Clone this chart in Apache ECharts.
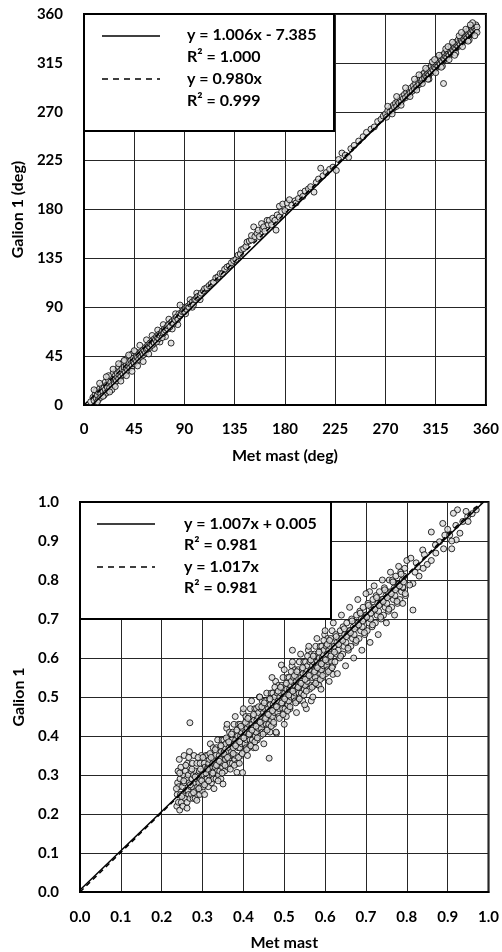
<!DOCTYPE html>
<html><head><meta charset="utf-8">
<script src="https://cdn.jsdelivr.net/npm/echarts@6/dist/echarts.min.js"></script>
<style>html,body{margin:0;padding:0;background:#fff}#c{width:502px;height:952px}</style>
</head><body><div id="c"></div>
<script>
// ---------- data ----------
const dirTickLabels = ['0','45','90','135','180','225','270','315','360'];
const spdTickLabels = ['0.0','0.1','0.2','0.3','0.4','0.5','0.6','0.7','0.8','0.9','1.0'];
const dirAxisTitles = ['Met mast (deg)', 'Galion 1 (deg)'];
const spdAxisTitles = ['Met mast', 'Galion 1'];
const dirFitLabels = ['y = 1.006x - 7.385', 'R² = 1.000', 'y = 0.980x', 'R² = 0.999'];
const spdFitLabels = ['y = 1.007x + 0.005', 'R² = 0.981', 'y = 1.017x', 'R² = 0.981'];
// fit line end points [x, y]
const dirFitSolid = [[7.3, 0], [350, 344.7]];
const dirFitDashed = [[0, 0], [350, 343]];
const spdFitSolid = [[0, 0.005], [0.988, 1.0]];
const spdFitDashed = [[0, 0], [0.983, 1.0]];

// wind direction: [met mast, galion]
const dirPoints = [
[6,3],[8,7],[9,4],[10,10],[11,6],[11,13],[12,9],[13,5],[13,12],[14,15],[15,10],[15,7],[16,14],[16,18],[17,12],[18,9],[18,16],[19,21],[19,14],[20,11],[20,18],[21,16],[22,13],[22,23],[23,19],[23,16],[24,26],[24,21],[25,18],[25,14],[26,24],[26,29],[27,21],[27,19],[28,27],[28,24],[29,31],[29,22],[30,26],[30,29],[31,24],[31,35],[32,28],[32,31],[33,26],[33,37],[34,30],[34,33],[35,28],[35,39],[36,32],[36,35],[37,30],[37,41],[38,34],[38,37],[39,32],[39,43],[40,36],[40,39],[41,34],[41,45],[42,38],[42,41],[43,36],[43,47],[44,40],[44,43],[45,38],[46,42],[46,49],[47,45],[47,40],[48,44],[49,47],[49,42],[50,46],[51,49],[51,44],[52,48],[53,51],[53,46],[54,50],[55,53],[55,48],[22,27],
[9,14],[12,3],[14,20],[17,8],[20,26],[23,12],[26,33],[28,17],[31,38],[33,22],[36,41],[38,27],[40,46],[43,31],[45,50],[48,36],[50,55],[53,40],[56,60],[58,47],[61,64],[63,52],[66,69],[68,58],[71,74],[73,63],[76,79],[79,70],[82,84],[84,74],[88,90],[91,84],[95,97],[97,90],[101,103],[104,97],
[56,51],[57,55],[57,52],[58,54],[59,57],[59,53],[60,56],[61,59],[61,55],[62,58],[63,61],[63,57],[64,60],[65,63],[65,58],[66,62],[67,65],[67,61],[68,64],[69,66],[70,62],[70,68],[71,66],[72,70],[72,67],[73,69],[74,71],[75,70],[75,73],[76,74],[77,72],[78,76],[78,57],[79,77],[80,75],[81,79],[82,78],[83,81],[84,79],[85,84],[86,92],[86,82],[87,84],[88,86],[89,87],[90,86],[91,89],[92,88],[93,91],[94,90],[95,93],[97,95],[98,92],[99,97],[100,97],[101,99],[102,100],[104,101],[105,103],[107,105],[108,107],[110,108],[112,110],
[114,112],[116,113],[118,117],[120,118],[122,121],[124,121],[126,125],[128,127],[130,128],[132,131],[134,133],[136,134],[138,138],[140,139],[141,143],[143,144],[145,146],[146,150],[148,151],[150,152],[150,156],[152,164],[153,155],[155,158],[156,161],[157,155],[159,167],[160,162],[161,164],[162,160],[164,170],[165,166],[166,170],[168,166],[169,172],[171,170],[172,161],[173,175],[175,183],[175,173],[177,178],[178,185],[180,179],[182,186],[184,189],[186,184],[189,188],[190,186],
[192,190],[194,195],[196,192],[198,197],[201,199],[203,201],[206,196],[208,205],[210,208],[212,218],[214,211],[217,214],[220,217],[223,219],[226,216],[228,226],[231,232],[234,230],[237,228],[239,236],
[242,239],[246,243],[250,247],[253,251],[257,254],[260,256],[263,261],[266,263],
[268,266],[270,268],[271,265],[272,271],[274,270],[275,274],[276,271],[277,276],[278,274],[279,278],[280,275],[281,280],[282,278],[283,282],[284,279],[285,284],[286,282],[287,286],[288,283],[289,288],[290,285],[291,290],[292,287],[293,292],[294,289],[295,294],[296,291],[297,296],[298,293],[299,298],[300,295],[301,300],
[302,298],[302,303],[303,300],[304,305],[305,301],[305,306],[306,303],[307,308],[307,302],[308,305],[309,310],[309,304],[310,307],[311,312],[311,306],[312,309],[313,314],[313,308],[314,311],[315,316],[315,310],[316,313],[317,318],[317,312],[318,315],[319,320],[319,314],[320,317],[321,322],[321,316],[322,319],[322,296],[323,324],[323,318],[324,321],[325,326],[325,320],[326,323],[327,328],[327,322],[328,325],[329,330],[329,324],[330,327],[331,332],[331,326],[332,329],[333,334],[333,328],[334,331],[335,336],[335,330],[336,333],[337,338],[337,332],[338,335],[339,340],[339,334],[340,337],[341,342],[341,336],[342,339],[343,344],[343,338],[344,341],[345,346],[345,340],[346,343],[347,348],[347,342],[348,345],[349,349],[349,344],[350,347],[351,350],[351,345],[352,348],[352,343],
[300,304],[303,296],[306,310],[309,300],[312,316],[315,306],[318,322],[321,312],[324,328],[327,318],[330,334],[333,324],[336,340],[339,330],[342,346],[345,336],[348,352],[350,340],[346,350],[344,335],[338,343],[332,322],[326,330],[320,311],[314,318],[308,300],[280,284],[284,276],[288,292],[292,284],[296,300],[298,290],[272,275],[276,268]
];

// wind speed (normalised): [met mast, galion]
const spdPoints = [
[.237,.22],[.238,.25],[.239,.28],[.24,.31],[.241,.23],[.242,.27],[.243,.34],[.244,.21],[.245,.29],[.246,.25],[.247,.32],[.248,.23],
[.251,.27],[.252,.22],[.253,.30],[.254,.25],[.255,.35],[.256,.28],[.257,.24],[.258,.31],[.259,.26],
[.261,.29],[.262,.23],[.263,.33],[.264,.26],[.265,.30],[.266,.25],[.267,.28],[.268,.36],[.269,.24],
[.269,.434],[.271,.27],[.272,.31],[.273,.25],[.274,.29],[.275,.33],[.276,.27],[.277,.24],[.278,.30],[.279,.35],
[.281,.28],[.282,.24],[.283,.31],[.284,.26],[.285,.29],[.286,.33],[.287,.25],[.288,.27],[.289,.30],
[.291,.28],[.292,.31],[.293,.25],[.294,.33],[.295,.29],[.296,.27],[.297,.35],[.298,.30],[.299,.26],
[.301,.31],[.302,.27],[.303,.30],[.304,.33],[.305,.25],[.306,.32],[.307,.29],[.308,.35],[.309,.28],
[.311,.29],[.312,.35],[.313,.32],[.314,.27],[.315,.33],[.316,.30],[.317,.34],[.318,.31],[.319,.38],
[.321,.32],[.322,.28],[.323,.35],[.324,.30],[.325,.33],[.326,.37],[.327,.29],[.328,.31],[.329,.34],
[.331,.32],[.332,.35],[.333,.29],[.334,.37],[.335,.33],[.336,.31],[.337,.39],[.338,.34],[.339,.30],
[.341,.35],[.342,.31],[.343,.34],[.344,.37],[.345,.29],[.346,.36],[.347,.33],[.348,.39],[.349,.32],
[.35,.277],[.351,.33],[.352,.39],[.353,.36],[.354,.31],[.355,.37],[.356,.34],[.357,.38],[.358,.35],[.359,.42],
[.361,.36],[.362,.32],[.363,.39],[.364,.34],[.365,.37],[.366,.41],[.367,.33],[.368,.35],[.369,.38],
[.371,.36],[.372,.39],[.373,.33],[.374,.41],[.375,.37],[.376,.35],[.377,.43],[.378,.38],[.379,.34],
[.381,.39],[.382,.35],[.383,.38],[.384,.41],[.385,.33],[.386,.40],[.387,.37],[.388,.43],[.384,.307],
[.391,.37],[.392,.43],[.393,.40],[.394,.35],[.395,.41],[.396,.38],[.397,.42],[.398,.306],[.399,.46],
[.401,.40],[.402,.36],[.403,.43],[.404,.38],[.405,.41],[.406,.45],[.407,.37],[.408,.39],[.409,.42],
[.411,.40],[.412,.43],[.413,.37],[.414,.45],[.415,.41],[.416,.39],[.417,.47],[.418,.42],[.419,.38],
[.421,.43],[.422,.39],[.423,.42],[.424,.45],[.425,.37],[.426,.44],[.427,.41],[.428,.47],[.429,.40],
[.431,.41],[.432,.47],[.433,.44],[.434,.39],[.435,.45],[.436,.42],[.437,.46],[.438,.43],[.439,.50],
[.441,.44],[.442,.40],[.443,.47],[.444,.42],[.445,.45],[.446,.49],[.447,.41],[.448,.43],[.449,.46],
[.451,.44],[.452,.47],[.453,.41],[.454,.49],[.455,.45],[.456,.43],[.457,.51],[.458,.46],[.459,.42],
[.461,.47],[.462,.43],[.463,.343],[.464,.49],[.465,.41],[.466,.48],[.467,.45],[.468,.51],[.469,.44],
[.471,.45],[.472,.51],[.473,.48],[.474,.43],[.475,.49],[.476,.46],[.477,.50],[.478,.47],[.479,.54],
[.481,.48],[.481,.407],[.483,.51],[.484,.46],[.485,.49],[.486,.53],[.487,.45],[.488,.47],[.489,.50],
[.491,.48],[.492,.51],[.493,.582],[.494,.53],[.495,.49],[.496,.47],[.497,.55],[.498,.50],[.499,.46],
[.501,.51],[.502,.47],[.503,.50],[.504,.53],[.505,.45],[.506,.52],[.507,.49],[.508,.55],[.509,.48],
[.511,.49],[.512,.55],[.513,.52],[.514,.47],[.515,.53],[.516,.50],[.517,.54],[.518,.51],[.519,.58],
[.521,.52],[.52,.62],[.523,.55],[.524,.50],[.525,.53],[.526,.57],[.527,.49],[.528,.51],[.529,.54],
[.531,.52],[.532,.55],[.533,.49],[.534,.57],[.535,.53],[.536,.51],[.537,.59],[.538,.54],[.539,.50],
[.541,.55],[.542,.51],[.543,.54],[.544,.57],[.545,.49],[.546,.56],[.547,.53],[.548,.59],[.549,.52],
[.551,.53],[.552,.59],[.553,.56],[.554,.47],[.555,.57],[.556,.54],[.557,.58],[.558,.55],[.559,.62],
[.561,.56],[.562,.52],[.563,.59],[.566,.49],[.565,.57],[.566,.61],[.567,.53],[.568,.55],[.569,.58],
[.571,.56],[.572,.59],[.573,.53],[.574,.61],[.575,.57],[.576,.55],[.577,.63],[.578,.58],[.579,.54],
[.581,.59],[.583,.531],[.583,.58],[.584,.61],[.585,.53],[.586,.60],[.587,.57],[.588,.63],[.589,.56],
[.591,.57],[.592,.63],[.593,.60],[.594,.55],[.595,.61],[.596,.58],[.597,.62],[.598,.59],[.599,.66],
[.601,.60],[.602,.56],[.603,.63],[.604,.58],[.605,.61],[.606,.65],[.607,.57],[.608,.59],[.609,.62],
[.611,.60],[.612,.63],[.613,.57],[.614,.65],[.615,.61],[.616,.59],[.617,.67],[.619,.558],[.619,.58],
[.622,.63],[.624,.59],[.626,.66],[.628,.61],[.629,.64],
[.632,.62],[.634,.65],[.636,.60],[.637,.67],[.639,.64],
[.641,.65],[.643,.61],[.644,.68],[.646,.63],[.648,.66],
[.651,.64],[.653,.69],[.655,.66],[.657,.62],[.659,.67],
[.661,.67],[.663,.63],[.665,.70],[.667,.65],[.669,.68],
[.671,.66],[.673,.69],[.675,.64],[.677,.71],[.679,.68],
[.681,.69],[.683,.65],[.685,.72],[.687,.67],[.689,.70],
[.691,.68],[.693,.73],[.695,.70],[.697,.66],[.699,.71],
[.701,.71],[.703,.67],[.705,.74],[.707,.69],[.709,.77],
[.711,.70],[.713,.73],[.715,.68],[.717,.75],[.719,.72],
[.721,.73],[.723,.69],[.725,.76],[.727,.71],[.729,.74],
[.731,.72],[.733,.77],[.735,.74],[.737,.70],[.739,.75],
[.741,.75],[.743,.71],[.745,.78],[.747,.73],[.749,.76],
[.751,.74],[.753,.77],[.755,.72],[.757,.80],[.759,.76],
[.761,.77],[.763,.73],[.765,.80],[.767,.75],[.769,.78],
[.771,.76],[.773,.81],[.775,.78],[.777,.74],[.779,.79],
[.781,.79],[.783,.75],[.785,.82],[.787,.77],[.789,.80],
[.791,.78],[.793,.81],[.795,.83],[.797,.76],
[.80,.85],[.81,.856],[.823,.844],[.827,.833],[.815,.791],[.807,.787],[.79,.782],[.815,.723],[.839,.877],[.843,.865],[.871,.869],[.86,.923],[.888,.945],[.88,.898],[.893,.915],[.905,.915],[.921,.903],[.937,.95],[.949,.963],[.945,.976],[.924,.98],[.914,.971],[.83,.81],[.85,.84],[.86,.85],[.87,.89],[.90,.93],[.91,.90],[.93,.92],[.96,.97],[.82,.82],[.84,.83],[.89,.88],[.92,.94],[.95,.95],[.97,.98],[.91,.88],
[.236,.265],[.244,.305],[.249,.245],[.254,.285],[.259,.325],[.262,.215],[.266,.345],[.27,.275],[.274,.315],[.278,.255],
[.282,.295],[.286,.235],[.289,.345],[.291,.265],[.295,.315],[.298,.285],[.301,.345],[.305,.275],[.308,.305],
[.312,.315],[.315,.285],[.318,.355],[.321,.345],[.325,.305],[.328,.265],[.331,.365],[.334,.325],[.338,.285],
[.341,.335],[.345,.375],[.348,.305],[.352,.355],[.355,.325],[.358,.395],[.361,.345],[.364,.385],[.368,.315],
[.371,.405],[.375,.355],[.378,.325],[.381,.375],[.384,.415],[.388,.345],[.391,.385],[.394,.425],[.397,.355],
[.401,.395],[.405,.435],[.408,.365],[.411,.445],[.414,.405],[.418,.375],[.421,.415],[.425,.455],[.428,.385],
[.431,.425],[.434,.395],[.437,.475],[.441,.435],[.445,.475],[.448,.405],[.451,.485],[.454,.445],[.458,.415],
[.461,.455],[.465,.495],[.468,.425],[.471,.465],[.474,.435],[.477,.525],[.481,.475],[.485,.515],[.488,.445],
[.491,.525],[.494,.485],[.497,.455],[.501,.495],[.505,.535],[.508,.465],[.511,.505],[.514,.475],[.517,.565],
[.521,.515],[.525,.555],[.528,.485],[.531,.565],[.534,.525],[.537,.495],[.541,.535],[.545,.575],[.548,.505],
[.551,.545],[.554,.515],[.557,.605],[.561,.555],[.565,.595],[.568,.525],[.571,.605],[.574,.565],[.577,.535],
[.581,.575],[.585,.615],[.588,.545],[.591,.585],[.594,.555],[.597,.645],[.601,.595],[.605,.635],[.608,.565],
[.611,.645],[.614,.605],[.617,.575],
[.623,.615],[.627,.655],[.633,.635],[.638,.605],[.643,.645],[.647,.675],[.652,.655],[.656,.625],[.662,.665],[.666,.695],[.672,.675],[.676,.645],[.682,.685],[.686,.715],[.692,.695],[.696,.665],[.702,.705],[.706,.735],[.712,.715],[.716,.685],[.722,.725],[.726,.755],[.732,.735],[.736,.705],[.742,.745],[.746,.775],[.752,.755],[.756,.725],[.762,.765],[.766,.795],[.772,.775],[.776,.745],[.782,.785],[.786,.815],[.792,.795],[.796,.765],
[.44,.50],[.45,.38],[.47,.55],[.48,.41],[.50,.57],[.50,.43],[.52,.59],[.53,.46],[.54,.61],[.55,.48],[.56,.63],[.57,.50],[.58,.65],[.59,.52],[.60,.67],[.61,.54],[.62,.69],[.63,.56],[.64,.71],[.65,.58],[.66,.73],[.67,.60],[.68,.75],[.69,.62],[.70,.765],[.71,.64],[.72,.785],[.73,.66],[.74,.80],[.75,.69],[.76,.82],[.77,.71],[.78,.835],[.79,.74],[.36,.43],[.38,.45],[.40,.47],[.42,.49],[.39,.33],[.41,.35],[.43,.37]
];

// ---------- chart ----------
const FONT = 'Lato';
const chart = echarts.init(document.getElementById('c'), null, {renderer: 'canvas'});
const lbl = (m) => ({color: '#000', fontFamily: FONT, fontWeight: 'bold', fontSize: 15, margin: m});
const nameStyle = {color: '#000', fontFamily: FONT, fontWeight: 'bold', fontSize: 16};
const split = {show: true, lineStyle: {color: '#262626', width: 1}};
const axLine = {show: true, lineStyle: {color: '#000', width: 2}};

function legendBox(x, y, w, h, lx1, lx2, ly1, ly2, tx, rows, labels) {
  const ch = [
    {type: 'rect', z: 100, shape: {x: x, y: y, width: w, height: h}, style: {fill: '#fff', stroke: '#000', lineWidth: 2}},
    {type: 'line', z: 101, shape: {x1: lx1, y1: ly1, x2: lx2, y2: ly1}, style: {stroke: '#000', lineWidth: 1.5}},
    {type: 'line', z: 101, shape: {x1: lx1, y1: ly2, x2: lx2, y2: ly2}, style: {stroke: '#000', lineWidth: 1.5, lineDash: [6, 5]}}
  ];
  labels.forEach((t, i) => ch.push({type: 'text', z: 101, style: {text: t, x: tx, y: rows[i], verticalAlign: 'middle', fill: '#000', fontFamily: FONT, fontWeight: 'bold', fontSize: 16}}));
  return ch;
}

const pointStyle = {color: '#dcdcdc', borderColor: '#000', borderWidth: 1};

chart.setOption({
  animation: false,
  backgroundColor: '#fff',
  textStyle: {fontFamily: FONT},
  grid: [
    {left: 84, top: 14, width: 403, height: 391, show: true, borderColor: '#000', borderWidth: 2, containLabel: false},
    {left: 80, top: 502, width: 409, height: 390, show: true, borderColor: '#000', borderWidth: 2, containLabel: false}
  ],
  xAxis: [
    {type: 'value', gridIndex: 0, min: 0, max: 360, interval: 45, name: dirAxisTitles[0], nameLocation: 'middle', nameGap: 43, nameTextStyle: nameStyle,
     axisLabel: Object.assign(lbl(17), {formatter: v => dirTickLabels[Math.round(v / 45)]}), axisTick: {show: false}, axisLine: axLine, splitLine: split},
    {type: 'value', gridIndex: 1, min: 0, max: 1, interval: 0.1, name: spdAxisTitles[0], nameLocation: 'middle', nameGap: 43, nameTextStyle: nameStyle,
     axisLabel: Object.assign(lbl(18), {formatter: v => spdTickLabels[Math.round(v * 10)]}), axisTick: {show: false}, axisLine: axLine, splitLine: split}
  ],
  yAxis: [
    {type: 'value', gridIndex: 0, min: 0, max: 360, interval: 45, name: dirAxisTitles[1], nameLocation: 'middle', nameGap: 49, nameTextStyle: nameStyle,
     axisLabel: Object.assign(lbl(21), {formatter: v => dirTickLabels[Math.round(v / 45)]}), axisTick: {show: false}, axisLine: axLine, splitLine: split},
    {type: 'value', gridIndex: 1, min: 0, max: 1, interval: 0.1, name: spdAxisTitles[1], nameLocation: 'middle', nameGap: 46, nameTextStyle: nameStyle,
     axisLabel: Object.assign(lbl(21), {formatter: v => spdTickLabels[Math.round(v * 10)]}), axisTick: {show: false}, axisLine: axLine, splitLine: split}
  ],
  series: [
    {type: 'scatter', xAxisIndex: 0, yAxisIndex: 0, data: dirPoints, symbol: 'circle', symbolSize: 6, itemStyle: pointStyle, z: 2},
    {type: 'line', xAxisIndex: 0, yAxisIndex: 0, data: dirFitSolid, showSymbol: false, symbol: 'none', lineStyle: {color: '#000', width: 1.5}, z: 5},
    {type: 'line', xAxisIndex: 0, yAxisIndex: 0, data: dirFitDashed, showSymbol: false, symbol: 'none', lineStyle: {color: '#000', width: 1.5, type: [5, 4]}, z: 5},
    {type: 'scatter', xAxisIndex: 1, yAxisIndex: 1, data: spdPoints, symbol: 'circle', symbolSize: 6, itemStyle: pointStyle, z: 2},
    {type: 'line', xAxisIndex: 1, yAxisIndex: 1, data: spdFitSolid, showSymbol: false, symbol: 'none', lineStyle: {color: '#000', width: 1.5}, z: 5},
    {type: 'line', xAxisIndex: 1, yAxisIndex: 1, data: spdFitDashed, showSymbol: false, symbol: 'none', lineStyle: {color: '#000', width: 1.5, type: [5, 4]}, z: 5}
  ],
  graphic: [].concat(
    legendBox(84, 14, 250, 117, 102, 160, 36, 79, 187, [35, 57, 79, 101], dirFitLabels),
    legendBox(80, 502, 251, 117, 97, 155, 524, 567, 184, [524, 545, 567, 588], spdFitLabels)
  )
});
</script>
</body></html>
